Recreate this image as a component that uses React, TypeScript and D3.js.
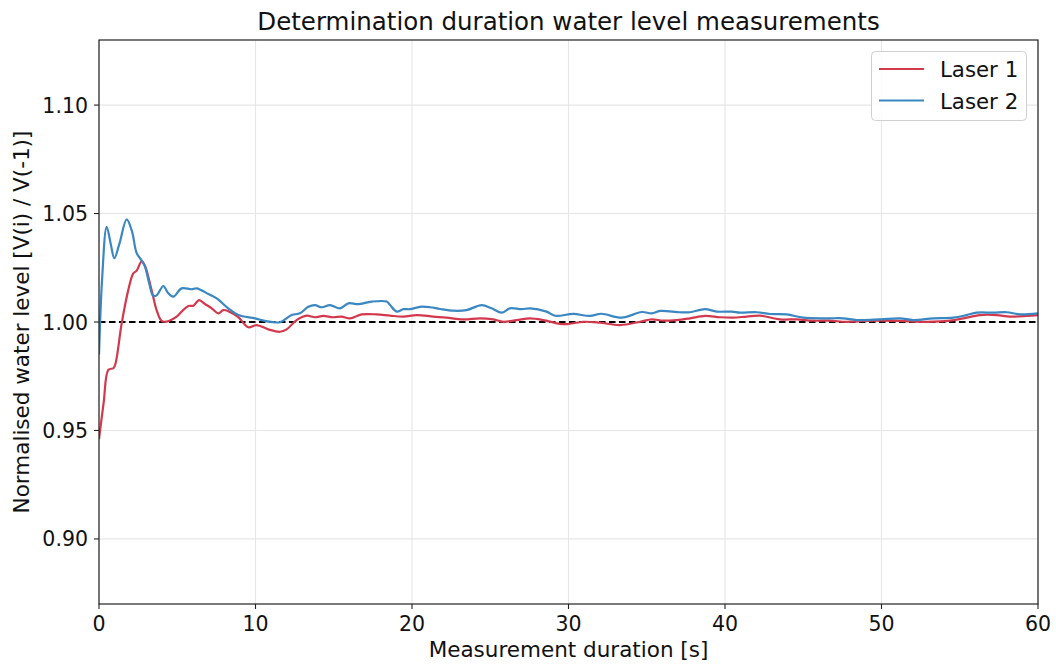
import React, { useEffect, useRef } from "react";
import * as d3 from "d3";

const TITLE = "Determination duration water level measurements";
const X_LABEL = "Measurement duration [s]";
const Y_LABEL = "Normalised water level [V(i) / V(-1)]";
const X_TICKS = [0, 10, 20, 30, 40, 50, 60];
const Y_TICKS = [0.9, 0.95, 1.0, 1.05, 1.1];
const SERIES_NAMES = ["Laser 1", "Laser 2"];
const SERIES_COLORS = ["#d3394d", "#3a87c1"];

const laser1T = [0, 0.3, 0.6, 0.92, 1.06, 1.45, 1.87, 2.19, 2.41, 2.73, 2.94, 3.36, 3.68, 4.0, 4.32, 4.96, 5.28, 5.71, 6.03, 6.39, 6.77, 7.2, 7.63, 7.94, 8.26, 8.9, 9.54, 10.07, 10.82, 11.57, 11.99, 12.63, 13.27, 13.8, 14.33, 14.97, 15.5, 16.04, 16.78, 17.74, 18.6, 19.45, 20.3, 21.36, 22.2, 23.28, 24.35, 25.2, 25.83, 26.69, 27.54, 28.39, 29.25, 29.89, 30.95, 32.0, 33.29, 34.57, 35.32, 36.06, 36.91, 37.76, 38.72, 39.68, 40.5, 41.39, 42.24, 43.51, 44.58, 45.64, 46.71, 47.77, 48.9, 49.9, 51.18, 52.89, 54.38, 55.23, 56.29, 57.36, 58.21, 59.28, 60];
const laser1V = [0.946, 0.963, 0.978, 0.9787, 0.981, 0.9994, 1.0147, 1.0224, 1.0237, 1.0281, 1.0258, 1.0147, 1.0055, 1.0005, 1.0002, 1.0025, 1.0048, 1.0074, 1.0075, 1.0101, 1.0083, 1.0063, 1.004, 1.0055, 1.005, 1.0022, 0.9976, 0.9986, 0.9966, 0.9955, 0.9966, 1.0009, 1.0029, 1.0022, 1.0028, 1.0022, 1.0025, 1.0017, 1.0035, 1.0035, 1.0029, 1.0025, 1.0032, 1.0025, 1.002, 1.0012, 1.0017, 1.0012, 1.0001, 1.0009, 1.0017, 1.0009, 0.9994, 0.999, 1.0001, 0.9997, 0.9986, 1.0001, 1.0012, 1.0006, 1.0009, 1.0017, 1.0028, 1.0022, 1.002, 1.0025, 1.0029, 1.0012, 1.0012, 1.0006, 1.0006, 1.0001, 1.0005, 1.0006, 1.0005, 1.0001, 1.0006, 1.0017, 1.0032, 1.0032, 1.0025, 1.0028, 1.0032];

const laser2T = [0, 0.2, 0.49, 0.75, 0.98, 1.3, 1.77, 2.1, 2.41, 2.73, 2.94, 3.2, 3.47, 3.7, 4.11, 4.4, 4.75, 5.28, 5.92, 6.24, 6.99, 7.52, 8.26, 8.9, 9.97, 10.6, 11.57, 12.31, 12.84, 13.37, 13.8, 14.23, 14.76, 15.4, 15.93, 16.57, 17.42, 18.38, 18.6, 19.02, 19.45, 19.87, 20.51, 21.15, 21.79, 22.64, 23.49, 24.45, 25.09, 25.73, 26.26, 27.0, 27.54, 28.6, 29.14, 30.3, 31.37, 32.1, 33.4, 34.68, 35.32, 35.85, 37.12, 37.76, 38.72, 39.47, 40.43, 40.96, 42.02, 42.88, 43.94, 45.0, 46.5, 47.56, 48.42, 49.9, 51.18, 52.03, 53.31, 54.59, 55.44, 56.08, 57.14, 58.0, 58.85, 60];
const laser2V = [0.985, 1.02, 1.0439, 1.036, 1.0294, 1.036, 1.0473, 1.042, 1.0317, 1.0283, 1.0255, 1.018, 1.012, 1.0124, 1.0166, 1.0135, 1.0117, 1.0155, 1.0151, 1.0155, 1.0129, 1.0109, 1.0063, 1.0032, 1.0017, 1.0005, 0.9999, 1.0032, 1.004, 1.007, 1.0078, 1.0068, 1.0078, 1.0063, 1.0086, 1.0082, 1.0094, 1.0094, 1.0078, 1.0048, 1.0059, 1.0059, 1.007, 1.0068, 1.006, 1.0052, 1.0055, 1.0078, 1.0063, 1.0043, 1.0063, 1.0059, 1.0063, 1.0048, 1.0029, 1.0037, 1.0028, 1.0038, 1.002, 1.0046, 1.004, 1.0051, 1.0045, 1.0045, 1.0059, 1.0048, 1.0048, 1.0043, 1.0045, 1.0037, 1.0035, 1.002, 1.0017, 1.0017, 1.0009, 1.0012, 1.0017, 1.0009, 1.0017, 1.002, 1.0032, 1.0043, 1.0043, 1.0045, 1.0035, 1.004];

const REF_LEVEL = 1.0;

const W = 1056;
const H = 664;
const M = { left: 99, right: 1038, top: 40, bottom: 604 };
const FONT = "'DejaVu Sans', sans-serif";

export default function App() {
  const ref = useRef<SVGSVGElement>(null);

  useEffect(() => {
    const svg = d3.select(ref.current);
    svg.selectAll("*").remove();

    const x = d3.scaleLinear().domain([0, 60]).range([M.left, M.right]);
    const y = d3.scaleLinear().domain([0.87, 1.13]).range([M.bottom, M.top]);

    svg.append("rect").attr("width", W).attr("height", H).attr("fill", "#fff");

    const grid = svg.append("g");
    X_TICKS.forEach((t) => {
      grid.append("line").attr("x1", x(t)).attr("x2", x(t)).attr("y1", M.top).attr("y2", M.bottom)
        .attr("stroke", "#e6e6e6").attr("stroke-width", 1.1);
    });
    Y_TICKS.forEach((t) => {
      grid.append("line").attr("x1", M.left).attr("x2", M.right).attr("y1", y(t)).attr("y2", y(t))
        .attr("stroke", "#e6e6e6").attr("stroke-width", 1.1);
    });

    // reference line
    svg.append("line").attr("x1", M.left).attr("x2", M.right).attr("y1", y(REF_LEVEL)).attr("y2", y(REF_LEVEL))
      .attr("stroke", "#000").attr("stroke-width", 1.8).attr("stroke-dasharray", "6.5,3.5");

    const series = [
      { t: laser1T, v: laser1V },
      { t: laser2T, v: laser2V },
    ];
    const line = d3.line<[number, number]>()
      .x((d) => x(d[0]))
      .y((d) => y(d[1]))
      .curve(d3.curveCatmullRom.alpha(0.5));

    const clip = svg.append("defs").append("clipPath").attr("id", "clip");
    clip.append("rect").attr("x", M.left).attr("y", M.top).attr("width", M.right - M.left).attr("height", M.bottom - M.top);

    series.forEach((s, i) => {
      const pts: [number, number][] = s.t.map((t, j) => [t, s.v[j]]);
      svg.append("path").datum(pts).attr("d", line).attr("fill", "none")
        .attr("stroke", SERIES_COLORS[i]).attr("stroke-width", 2.2)
        .attr("stroke-linejoin", "round").attr("clip-path", "url(#clip)");
    });

    // axes frame
    svg.append("rect").attr("x", M.left).attr("y", M.top).attr("width", M.right - M.left).attr("height", M.bottom - M.top)
      .attr("fill", "none").attr("stroke", "#222").attr("stroke-width", 1.2);

    // x ticks
    X_TICKS.forEach((t) => {
      svg.append("line").attr("x1", x(t)).attr("x2", x(t)).attr("y1", M.bottom).attr("y2", M.bottom + 5)
        .attr("stroke", "#222").attr("stroke-width", 1.1);
      svg.append("text").attr("x", x(t)).attr("y", 631).attr("text-anchor", "middle")
        .attr("font-family", FONT).attr("font-size", 20.5).attr("fill", "#111").text(String(t));
    });
    Y_TICKS.forEach((t) => {
      svg.append("line").attr("x1", M.left - 5).attr("x2", M.left).attr("y1", y(t)).attr("y2", y(t))
        .attr("stroke", "#222").attr("stroke-width", 1.1);
      svg.append("text").attr("x", M.left - 11).attr("y", y(t) + 7.5).attr("text-anchor", "end")
        .attr("font-family", FONT).attr("font-size", 20.5).attr("fill", "#111").text(d3.format(".2f")(t));
    });

    svg.append("text").attr("x", (M.left + M.right) / 2).attr("y", 30).attr("text-anchor", "middle")
      .attr("font-family", FONT).attr("font-size", 24.5).attr("fill", "#111").text(TITLE);
    svg.append("text").attr("x", (M.left + M.right) / 2).attr("y", 657).attr("text-anchor", "middle")
      .attr("font-family", FONT).attr("font-size", 21.5).attr("fill", "#111").text(X_LABEL);
    svg.append("text").attr("transform", `translate(29,${(M.top + M.bottom) / 2}) rotate(-90)`).attr("text-anchor", "middle")
      .attr("font-family", FONT).attr("font-size", 21.5).attr("fill", "#111").text(Y_LABEL);

    // legend
    const lg = svg.append("g");
    lg.append("rect").attr("x", 871.5).attr("y", 51.5).attr("width", 155).attr("height", 69).attr("rx", 4)
      .attr("fill", "#fff").attr("fill-opacity", 0.85).attr("stroke", "#d0d0d0").attr("stroke-width", 1);
    SERIES_NAMES.forEach((name, i) => {
      const yy = 69 + i * 31.5;
      lg.append("line").attr("x1", 879).attr("x2", 924).attr("y1", yy).attr("y2", yy)
        .attr("stroke", SERIES_COLORS[i]).attr("stroke-width", 2.2);
      lg.append("text").attr("x", 940).attr("y", yy + 8).attr("font-family", FONT).attr("font-size", 21.3)
        .attr("fill", "#111").text(name);
    });
  }, []);

  return (
    <svg ref={ref} width={W} height={H} style={{ position: "absolute", left: 0, top: 0, display: "block" }} />
  );
}
